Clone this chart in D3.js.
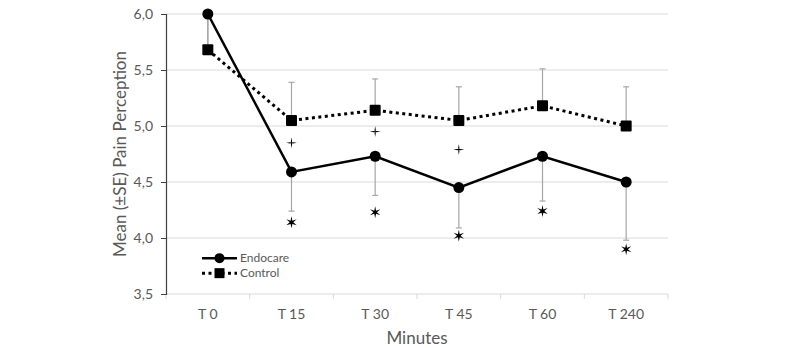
<!DOCTYPE html>
<html lang="en">
<head>
    <meta charset="UTF-8">
    <title>Pain Perception</title>
    <script src="https://d3js.org/d3.v7.min.js"></script>
    <style>
        body, html {
            margin: 0;
            background-color: #ffffff;
            font-family: 'Lato', sans-serif;
        }
        svg { display: block; }
    </style>
</head>
<body>
<svg id="chart" width="800" height="348"></svg>

<script>
    // Data
    const timepoints = ['T 0', 'T 15', 'T 30', 'T 45', 'T 60', 'T 240'];
    const endocareMean = [6.0, 4.59, 4.73, 4.45, 4.73, 4.50];
    const endocareSE = [0.30, 0.35, 0.35, 0.36, 0.40, 0.52];
    const controlMean = [5.68, 5.05, 5.14, 5.05, 5.18, 5.00];
    const controlSE = [0.30, 0.34, 0.28, 0.30, 0.33, 0.35];
    const yTicks = [3.5, 4.0, 4.5, 5.0, 5.5, 6.0];
    // significance markers (category, y position in data units)
    const asteriskMarks = [['T 15', 4.14], ['T 30', 4.23], ['T 45', 4.02], ['T 60', 4.24], ['T 240', 3.90]];
    const crossMarks = [['T 15', 4.85], ['T 30', 4.95], ['T 45', 4.79]];

    const svg = d3.select('#chart');
    const margin = { top: 14, right: 132, bottom: 54, left: 166 };
    const width = +svg.attr('width') - margin.left - margin.right;
    const height = +svg.attr('height') - margin.top - margin.bottom;
    const textColor = '#595959';
    const gridColor = '#d9d9d9';

    const x = d3.scaleBand().domain(timepoints).range([0, width]);
    const y = d3.scaleLinear().domain([3.5, 6.0]).range([height, 0]);
    const cx = d => x(d) + x.bandwidth() / 2;

    const g = svg.append('g').attr('transform', `translate(${margin.left},${margin.top})`);

    // horizontal gridlines
    g.append('g')
        .selectAll('line')
        .data(yTicks.filter(t => t > 3.5))
        .join('line')
        .attr('x1', 0).attr('x2', width)
        .attr('y1', d => y(d)).attr('y2', d => y(d))
        .attr('stroke', gridColor).attr('stroke-width', 1);

    // x axis (light, ticks between categories)
    const xAxis = g.append('g').attr('transform', `translate(0,${height})`);
    xAxis.append('line')
        .attr('x1', 0).attr('x2', width)
        .attr('stroke', gridColor).attr('stroke-width', 1);
    xAxis.selectAll('line.tick')
        .data(d3.range(timepoints.length + 1))
        .join('line')
        .attr('class', 'tick')
        .attr('x1', i => i * x.bandwidth()).attr('x2', i => i * x.bandwidth())
        .attr('y1', 0).attr('y2', 5)
        .attr('stroke', gridColor);
    xAxis.selectAll('text')
        .data(timepoints)
        .join('text')
        .attr('x', d => cx(d))
        .attr('y', 25)
        .attr('text-anchor', 'middle')
        .attr('fill', textColor)
        .style('font-size', '14px')
        .text(d => d);

    // y axis
    const yAxis = d3.axisLeft(y)
        .tickValues(yTicks)
        .tickSize(5)
        .tickPadding(8)
        .tickFormat(d => d3.format('.1f')(d).replace('.', ','));
    const yg = g.append('g').call(yAxis);
    yg.select('.domain').attr('stroke', '#404040').attr('stroke-width', 1.2);
    yg.selectAll('.tick line').attr('stroke', '#404040');
    yg.selectAll('.tick text')
        .attr('fill', textColor)
        .style('font-size', '14px')
        .style('font-family', 'Lato, sans-serif');

    // error bars
    function errorBars(means, ses, dir) {
        const eg = g.append('g');
        timepoints.forEach((t, i) => {
            const end = means[i] + dir * ses[i];
            eg.append('line')
                .attr('x1', cx(t)).attr('x2', cx(t))
                .attr('y1', y(means[i])).attr('y2', y(end))
                .attr('stroke', '#a6a6a6').attr('stroke-width', 1.2);
            eg.append('line')
                .attr('x1', cx(t) - 3).attr('x2', cx(t) + 3)
                .attr('y1', y(end)).attr('y2', y(end))
                .attr('stroke', '#a6a6a6').attr('stroke-width', 1.2);
        });
    }
    errorBars(controlMean, controlSE, 1);
    errorBars(endocareMean, endocareSE, -1);

    const line = d3.line()
        .x((d, i) => cx(timepoints[i]))
        .y(d => y(d));

    // control series (dotted, squares)
    g.append('path')
        .datum(controlMean)
        .attr('fill', 'none')
        .attr('stroke', '#000')
        .attr('stroke-width', 3)
        .attr('stroke-dasharray', '3,3.5')
        .attr('d', line);
    g.append('g')
        .selectAll('rect')
        .data(controlMean)
        .join('rect')
        .attr('x', (d, i) => cx(timepoints[i]) - 5.5)
        .attr('y', d => y(d) - 5.5)
        .attr('width', 11).attr('height', 11)
        .attr('rx', 1)
        .attr('fill', '#000');

    // endocare series (solid, circles)
    g.append('path')
        .datum(endocareMean)
        .attr('fill', 'none')
        .attr('stroke', '#000')
        .attr('stroke-width', 2.5)
        .attr('d', line);
    g.append('g')
        .selectAll('circle')
        .data(endocareMean)
        .join('circle')
        .attr('cx', (d, i) => cx(timepoints[i]))
        .attr('cy', d => y(d))
        .attr('r', 5.5)
        .attr('fill', '#000');

    // significance symbols drawn as small shapes
    // six-pointed star (asterisk)
    const starPts = d3.range(12).map(k => [k * Math.PI / 6, k % 2 === 0 ? 6 : 1.8]);
    const starPath = d3.lineRadial().curve(d3.curveLinearClosed)(starPts);
    g.append('g')
        .selectAll('path')
        .data(asteriskMarks)
        .join('path')
        .attr('transform', d => `translate(${cx(d[0])},${y(d[1])})`)
        .attr('d', starPath)
        .attr('fill', '#000');
    // four-spoked cross (dagger-like)
    const crossPts = d3.range(16).map(k => {
        const r = [5.5, 1.6, 0.6, 1.6][k % 4];
        const a = k * Math.PI / 8;
        return [a, r];
    });
    const crossPath = d3.lineRadial().curve(d3.curveLinearClosed)(crossPts);
    g.append('g')
        .selectAll('path')
        .data(crossMarks)
        .join('path')
        .attr('transform', d => `translate(${cx(d[0])},${y(d[1])})`)
        .attr('d', crossPath)
        .attr('fill', '#000');

    // legend
    const legend = g.append('g').attr('transform', `translate(36,${y(3.82)})`);
    const legendItems = [
        { name: 'Endocare', dash: null, width: 2.5, shape: 'circle' },
        { name: 'Control', dash: '3,3.5', width: 3, shape: 'square' }
    ];
    legendItems.forEach((item, i) => {
        const row = legend.append('g').attr('transform', `translate(0,${i * 15})`);
        row.append('line')
            .attr('x1', 0).attr('x2', 35)
            .attr('stroke', '#000')
            .attr('stroke-width', item.width)
            .attr('stroke-dasharray', item.dash);
        if (item.shape === 'circle') {
            row.append('circle').attr('cx', 17.5).attr('r', 5).attr('fill', '#000');
        } else {
            row.append('rect').attr('x', 12.5).attr('y', -5).attr('width', 10).attr('height', 10).attr('fill', '#000');
        }
        row.append('text')
            .attr('x', 38)
            .attr('dy', '0.35em')
            .attr('fill', textColor)
            .style('font-size', '12px')
            .text(item.name);
    });

    // axis titles
    svg.append('text')
        .attr('transform', `translate(126,${margin.top + height / 2}) rotate(-90)`)
        .attr('text-anchor', 'middle')
        .attr('fill', textColor)
        .style('font-size', '17px')
        .text('Mean (\u00b1SE) Pain Perception');
    svg.append('text')
        .attr('x', margin.left + width / 2)
        .attr('y', 344)
        .attr('text-anchor', 'middle')
        .attr('fill', textColor)
        .style('font-size', '17px')
        .text('Minutes');
</script>
</body>
</html>
